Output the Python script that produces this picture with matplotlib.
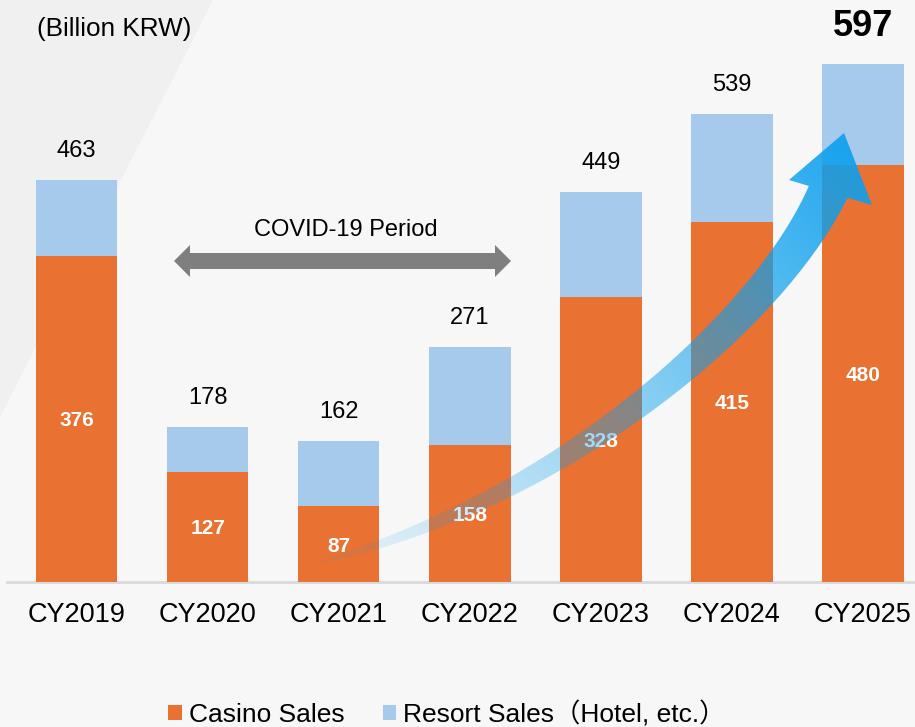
import numpy as np
import matplotlib
matplotlib.use("Agg")
import matplotlib.pyplot as plt
from matplotlib.patches import Polygon

plt.rcParams['font.family'] = ['Liberation Sans', 'Noto Sans CJK JP', 'DejaVu Sans']

# ---- data ----
categories = ["CY2019", "CY2020", "CY2021", "CY2022", "CY2023", "CY2024", "CY2025"]
casino_sales = [376, 127, 87, 158, 328, 415, 480]
resort_sales = [87, 51, 75, 113, 121, 124, 117]
series_names = ["Casino Sales", "Resort Sales（Hotel, etc.）"]
unit_label = "(Billion KRW)"
period_label = "COVID-19 Period"

casino_color = "#E97132"
resort_color = "#A6CAEC"

W, H = 915, 727
fig = plt.figure(figsize=(W / 100, H / 100), dpi=100)
fig.patch.set_facecolor("#F7F7F7")

ax = fig.add_axes([0, 0, 1, 1])
ax.set_facecolor("none")
ax.axis("off")

# background diagonal shade (top-left), behind everything in the axes
ax.add_patch(Polygon([(0, 1), (213 / W, 1), (0, 1 - 417 / H)], closed=True,
                     transform=fig.transFigure, facecolor="#F0F0F0",
                     edgecolor="none", zorder=0))

# axis scale: bar centres at px 76.5 + 131.08*i, baseline at px 582, 0.8683 px/unit
xs = 131.08
ys = 0.8683
ax.set_xlim(-76.5 / xs, (W - 76.5) / xs)
ax.set_ylim(-(H - 582) / ys, 582 / ys)

x = np.arange(len(categories))
totals = [c + r for c, r in zip(casino_sales, resort_sales)]

b1 = ax.bar(x, casino_sales, width=0.623, color=casino_color, zorder=2, linewidth=0)
b2 = ax.bar(x, resort_sales, bottom=casino_sales, width=0.623, color=resort_color,
            zorder=2, linewidth=0)

# baseline
ax.axhline(0, xmin=7 / W, xmax=1, color="#D9D9D9", lw=2, zorder=1)

# category labels
for xi, c in zip(x, categories):
    ax.annotate(c, (xi, 0), xytext=(0, -33 * 0.72), textcoords="offset points",
                ha="center", va="center", fontsize=19.5, color="#000000")

# casino value labels (inside)
for xi, v in zip(x, casino_sales):
    ax.annotate(str(v), (xi, v / 2), xytext=(0, -2 * 0.72), textcoords="offset points",
                ha="center", va="center", fontsize=15, fontweight="bold",
                color="white", zorder=3)

# total labels
for i, (xi, t) in enumerate(zip(x, totals)):
    if i == len(x) - 1:
        ax.annotate(str(t), (xi, t), xytext=(0, 37 * 0.72), textcoords="offset points",
                    ha="center", va="center", fontsize=26, fontweight="bold", color="#000000")
    else:
        ax.annotate(str(t), (xi, t), xytext=(0, 29 * 0.72), textcoords="offset points",
                    ha="center", va="center", fontsize=17, color="#000000")

# unit label
ax.text(114 / W, 1 - 29 / H, unit_label, transform=fig.transFigure,
        ha="center", va="center", fontsize=18.8, color="#000000")


def P(px, py):
    """reference-pixel position -> data coords (for decorations)"""
    return ((px - 76.5) / xs, (582 - py) / ys)


# COVID double arrow
pts = [(174, 261), (190, 245), (190, 253), (495, 253), (495, 245), (511, 261),
       (495, 277), (495, 269), (190, 269), (190, 277)]
ax.add_patch(Polygon([P(*p) for p in pts], closed=True, facecolor="#7F7F7F",
                     edgecolor="none", zorder=3))
ax.text(*P(346, 230), period_label, ha="center", va="center", fontsize=17, color="#000000")

# curved growth arrow (in reference pixels, converted)
P0 = np.array([313.0, 564.0]); P1 = np.array([565.0, 500.0])
P2 = np.array([769.0, 319.5]); P3 = np.array([828.0, 192.0])
t = np.linspace(0, 1, 200)
B = (((1 - t) ** 3)[:, None] * P0 + (3 * (1 - t) ** 2 * t)[:, None] * P1
     + (3 * (1 - t) * t ** 2)[:, None] * P2 + (t ** 3)[:, None] * P3)
dB = ((3 * (1 - t) ** 2)[:, None] * (P1 - P0) + (6 * (1 - t) * t)[:, None] * (P2 - P1)
      + (3 * t ** 2)[:, None] * (P3 - P2))
tang = dB / np.linalg.norm(dB, axis=1)[:, None]
nrm = np.stack([-tang[:, 1], tang[:, 0]], axis=1)
wid = 40 * t ** 0.65
left = B + nrm * (wid / 2)[:, None]
right = B - nrm * (wid / 2)[:, None]
head = [(809, 186), (789, 180), (844, 133), (872, 205), (848, 198)]
if np.linalg.norm(left[-1] - np.array(head[0])) < np.linalg.norm(right[-1] - np.array(head[0])):
    e1, e2 = left, right
else:
    e1, e2 = right, left
outline = list(map(tuple, e1)) + head + list(map(tuple, e2[::-1]))
clip = Polygon([P(*p) for p in outline], closed=True, facecolor="none",
               edgecolor="none", transform=ax.transData)
ax.add_patch(clip)

# gradient image
gx0, gx1, gy0, gy1 = 300, 880, 125, 575
nx, ny = 300, 240
GX, GY = np.meshgrid(np.linspace(gx0, gx1, nx), np.linspace(gy0, gy1, ny))
d = np.array([844 - 313, 133 - 564], float)
s = np.clip(((GX - 313) * d[0] + (GY - 564) * d[1]) / (d @ d), 0, 1)
alpha = 0.06 + 0.86 * s ** 1.15
img = np.zeros((ny, nx, 4))
img[..., 0] = 12 / 255
img[..., 1] = 160 / 255
img[..., 2] = 238 / 255
img[..., 3] = alpha
xa, ya0 = P(gx0, gy1)
xb, yb1 = P(gx1, gy0)
im = ax.imshow(img, extent=[xa, xb, ya0, yb1], origin="upper", aspect="auto",
               zorder=4, interpolation="bilinear")
im.set_clip_path(clip)

# legend
fig.legend([b1, b2], series_names, loc="center", bbox_to_anchor=(447 / W, 13 / H),
           ncol=2, frameon=False, fontsize=19, handlelength=0.5, handleheight=0.5,
           handletextpad=0.27, columnspacing=1.45, borderpad=0, borderaxespad=0)

fig.savefig("out.png", dpi=100, facecolor=fig.get_facecolor())
